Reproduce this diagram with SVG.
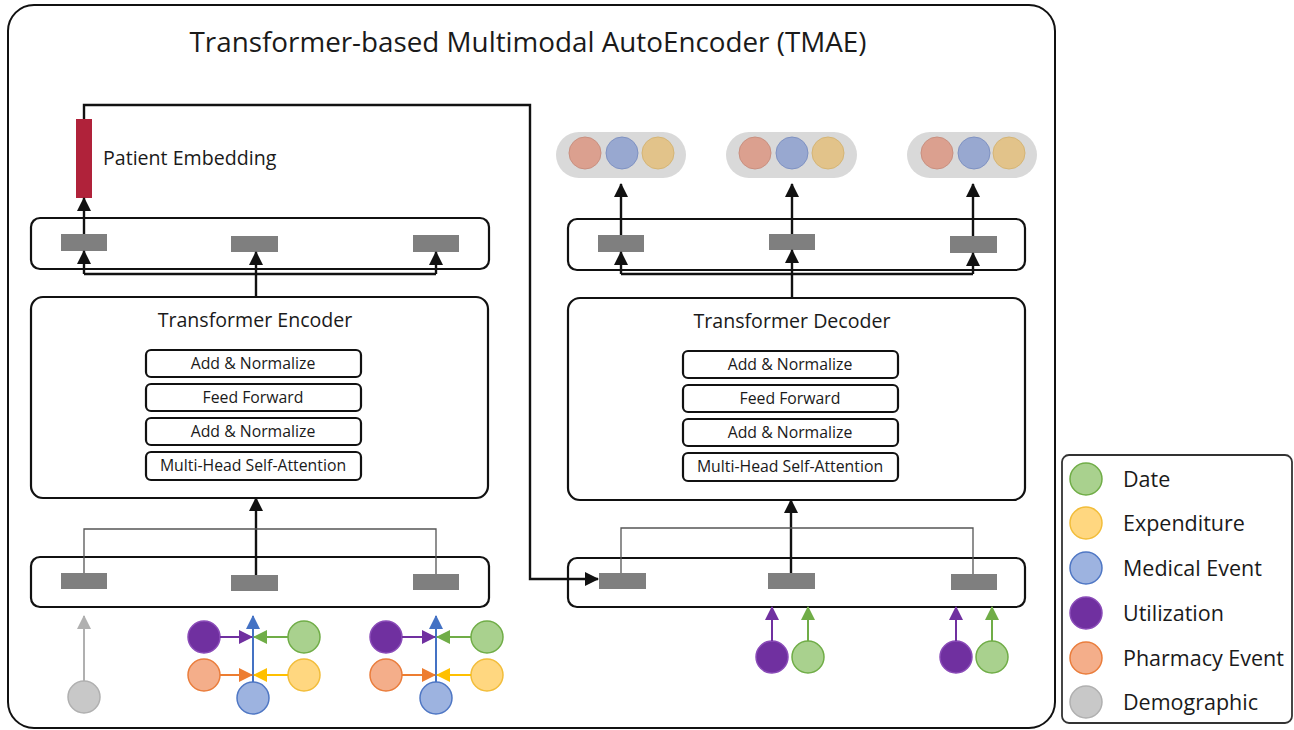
<svg xmlns="http://www.w3.org/2000/svg" width="1294" height="730" viewBox="0 0 1294 730">
<style>
text{font-family:"Open Sans","Noto Sans","Liberation Sans",sans-serif;fill:#1a1a1a}
.box{fill:#fff;stroke:#111;stroke-width:2.2}
.tok{fill:#7f7f7f}
.blk{fill:none;stroke:#111;stroke-width:2.4}
.thin{fill:none;stroke:#555;stroke-width:1.3}
.lay{font-size:15.8px;text-anchor:middle}
.leg{font-size:21.5px}
.pill{fill:#d9d9d9}
.g{fill:#a9d18e;stroke:#70ad47;stroke-width:1.5}
.y{fill:#ffd780;stroke:#f2bd3a;stroke-width:1.5}
.b{fill:#9db3e0;stroke:#4f77c4;stroke-width:1.5}
.p{fill:#7030a0;stroke:#8a4bb8;stroke-width:1.5}
.o{fill:#f4ae8a;stroke:#ea7d3c;stroke-width:1.5}
.d{fill:#c8c8c8;stroke:#b0b0b0;stroke-width:1.5}
.fo{fill:#dba08f;stroke:#c99080;stroke-width:1}
.fb{fill:#98a8d0;stroke:#7f92c2;stroke-width:1}
.fy{fill:#e2c38a;stroke:#d5b575;stroke-width:1}
</style>
<defs>
<marker id="ak" markerUnits="userSpaceOnUse" markerWidth="14" markerHeight="14" refX="13" refY="7" orient="auto"><path d="M0,0 L14,7 L0,14 z" fill="#111"/></marker>
<marker id="ap" markerUnits="userSpaceOnUse" markerWidth="14" markerHeight="14" refX="13" refY="7" orient="auto"><path d="M0,0 L14,7 L0,14 z" fill="#7030a0"/></marker>
<marker id="ag" markerUnits="userSpaceOnUse" markerWidth="14" markerHeight="14" refX="13" refY="7" orient="auto"><path d="M0,0 L14,7 L0,14 z" fill="#70ad47"/></marker>
<marker id="ao" markerUnits="userSpaceOnUse" markerWidth="14" markerHeight="14" refX="13" refY="7" orient="auto"><path d="M0,0 L14,7 L0,14 z" fill="#ed7d31"/></marker>
<marker id="ay" markerUnits="userSpaceOnUse" markerWidth="14" markerHeight="14" refX="13" refY="7" orient="auto"><path d="M0,0 L14,7 L0,14 z" fill="#ffc000"/></marker>
<marker id="ab" markerUnits="userSpaceOnUse" markerWidth="14" markerHeight="14" refX="13" refY="7" orient="auto"><path d="M0,0 L14,7 L0,14 z" fill="#4472c4"/></marker>
<marker id="ad" markerUnits="userSpaceOnUse" markerWidth="14" markerHeight="14" refX="13" refY="7" orient="auto"><path d="M0,0 L14,7 L0,14 z" fill="#b0b0b0"/></marker>
</defs>
<rect width="1294" height="730" fill="#fff"/>

<g id="tmae">
<rect x="8" y="5" width="1047" height="723" rx="26" fill="none" stroke="#111" stroke-width="2"/>
<text x="528" y="52" font-size="27.8" text-anchor="middle">Transformer-based Multimodal AutoEncoder (TMAE)</text>
</g>

<g id="patient-embedding">
<rect x="76" y="119" width="16" height="79" fill="#b0223a"/>
<text x="103" y="165" font-size="19.6">Patient Embedding</text>
</g>

<g id="encoder-output">
<rect class="box" x="31" y="218" width="458" height="51" rx="9"/>
<rect class="tok" x="61" y="234" width="46" height="17"/>
<rect class="tok" x="231" y="236" width="47" height="16"/>
<rect class="tok" x="413" y="235" width="46" height="17"/>
</g>

<g id="transformer-encoder">
<rect class="box" x="31" y="297" width="457" height="201" rx="12"/>
<text x="255" y="327" font-size="19.6" text-anchor="middle">Transformer Encoder</text>
<rect class="box" x="146" y="350" width="215" height="27" rx="5" stroke-width="1.8"/>
<text class="lay" x="253" y="369">Add &amp; Normalize</text>
<rect class="box" x="146" y="384" width="215" height="27" rx="5" stroke-width="1.8"/>
<text class="lay" x="253" y="403">Feed Forward</text>
<rect class="box" x="146" y="418" width="215" height="27" rx="5" stroke-width="1.8"/>
<text class="lay" x="253" y="437">Add &amp; Normalize</text>
<rect class="box" x="146" y="452" width="215" height="28" rx="5" stroke-width="1.8"/>
<text class="lay" x="253" y="471">Multi-Head Self-Attention</text>
</g>

<g id="encoder-input">
<rect class="box" x="31" y="557" width="458" height="50" rx="9"/>
<rect class="tok" x="61" y="573" width="46" height="16"/>
<rect class="tok" x="231" y="575" width="47" height="16"/>
<rect class="tok" x="413" y="574" width="46" height="16"/>
</g>

<g id="decoder-output-pills">
<rect class="pill" x="556" y="132" width="130" height="46" rx="23"/>
<circle class="fo" cx="585" cy="153" r="16"/><circle class="fb" cx="622" cy="153" r="16"/><circle class="fy" cx="658" cy="153" r="16"/>
<rect class="pill" x="726" y="132" width="131" height="46" rx="23"/>
<circle class="fo" cx="755" cy="153" r="16"/><circle class="fb" cx="792" cy="153" r="16"/><circle class="fy" cx="828" cy="153" r="16"/>
<rect class="pill" x="907" y="132" width="130" height="46" rx="23"/>
<circle class="fo" cx="937" cy="153" r="16"/><circle class="fb" cx="974" cy="153" r="16"/><circle class="fy" cx="1009" cy="153" r="16"/>
</g>

<g id="decoder-output">
<rect class="box" x="568" y="219" width="457" height="51" rx="9"/>
<rect class="tok" x="598" y="235" width="46" height="17"/>
<rect class="tok" x="769" y="234" width="46" height="16"/>
<rect class="tok" x="950" y="236" width="47" height="17"/>
</g>

<g id="transformer-decoder">
<rect class="box" x="568" y="298" width="457" height="202" rx="12"/>
<text x="792" y="328" font-size="19.6" text-anchor="middle">Transformer Decoder</text>
<rect class="box" x="683" y="351" width="215" height="27" rx="5" stroke-width="1.8"/>
<text class="lay" x="790" y="370">Add &amp; Normalize</text>
<rect class="box" x="683" y="385" width="215" height="27" rx="5" stroke-width="1.8"/>
<text class="lay" x="790" y="404">Feed Forward</text>
<rect class="box" x="683" y="419" width="215" height="27" rx="5" stroke-width="1.8"/>
<text class="lay" x="790" y="438">Add &amp; Normalize</text>
<rect class="box" x="683" y="453" width="215" height="28" rx="5" stroke-width="1.8"/>
<text class="lay" x="790" y="472">Multi-Head Self-Attention</text>
</g>

<g id="decoder-input">
<rect class="box" x="568" y="558" width="457" height="49" rx="9"/>
<rect class="tok" x="599" y="573" width="47" height="16"/>
<rect class="tok" x="768" y="573" width="47" height="16"/>
<rect class="tok" x="951" y="574" width="46" height="16"/>
</g>

<g id="encoder-inputs">
<circle class="d" cx="84" cy="697" r="16"/>
<circle class="p" cx="204" cy="637" r="16"/>
<circle class="g" cx="304" cy="637" r="16"/>
<circle class="o" cx="204" cy="675" r="16"/>
<circle class="y" cx="304" cy="675" r="16"/>
<circle class="b" cx="253" cy="698" r="16"/>
<circle class="p" cx="386" cy="637" r="16"/>
<circle class="g" cx="487" cy="637" r="16"/>
<circle class="o" cx="386" cy="675" r="16"/>
<circle class="y" cx="487" cy="675" r="16"/>
<circle class="b" cx="436" cy="698" r="16"/>
</g>

<g id="decoder-inputs">
<circle class="p" cx="772" cy="657" r="16"/>
<circle class="g" cx="808" cy="657" r="16"/>
<circle class="p" cx="956" cy="657" r="16"/>
<circle class="g" cx="992" cy="657" r="16"/>
</g>

<g id="legend">
<rect x="1062" y="455" width="230" height="268" rx="7" fill="#fff" stroke="#333" stroke-width="1.8"/>
<circle class="g" cx="1086" cy="479" r="16"/><text class="leg" x="1123" y="487">Date</text>
<circle class="y" cx="1086" cy="523" r="16"/><text class="leg" x="1123" y="531">Expenditure</text>
<circle class="b" cx="1086" cy="568" r="16"/><text class="leg" x="1123" y="576">Medical Event</text>
<circle class="p" cx="1086" cy="613" r="16"/><text class="leg" x="1123" y="621">Utilization</text>
<circle class="o" cx="1086" cy="658" r="16"/><text class="leg" x="1123" y="666">Pharmacy Event</text>
<circle class="d" cx="1086" cy="702" r="16"/><text class="leg" x="1123" y="710">Demographic</text>
</g>

<g id="connectors">
<path class="blk" d="M84,119 V105 H530 V579 H598" marker-end="url(#ak)"/>
<path class="blk" d="M84,234 V198" marker-end="url(#ak)"/>
<path class="blk" d="M256,297 V252" marker-end="url(#ak)"/>
<path class="blk" d="M84,274 H436"/>
<path class="blk" d="M84,274 V251" marker-end="url(#ak)"/>
<path class="blk" d="M436,274 V252" marker-end="url(#ak)"/>
<path class="blk" d="M256,575 V498" marker-end="url(#ak)"/>
<path class="thin" d="M84,573 V529 H436 V574"/>

<path class="blk" d="M621,235 V184" marker-end="url(#ak)"/>
<path class="blk" d="M792,234 V184" marker-end="url(#ak)"/>
<path class="blk" d="M973,236 V184" marker-end="url(#ak)"/>
<path class="blk" d="M792,298 V250" marker-end="url(#ak)"/>
<path class="blk" d="M621,274 H973"/>
<path class="blk" d="M621,274 V252" marker-end="url(#ak)"/>
<path class="blk" d="M973,274 V253" marker-end="url(#ak)"/>
<path class="blk" d="M791,573 V500" marker-end="url(#ak)"/>
<path class="thin" d="M621,573 V528 H973 V574"/>

<path d="M84,681 V616" stroke="#b0b0b0" stroke-width="2" fill="none" marker-end="url(#ad)"/>
<path d="M253,682 V616" stroke="#4472c4" stroke-width="2" fill="none" marker-end="url(#ab)"/>
<path d="M220,637 H252" stroke="#7030a0" stroke-width="2" fill="none" marker-end="url(#ap)"/>
<path d="M288,637 H254" stroke="#70ad47" stroke-width="2" fill="none" marker-end="url(#ag)"/>
<path d="M220,675 H252" stroke="#ed7d31" stroke-width="2" fill="none" marker-end="url(#ao)"/>
<path d="M288,675 H254" stroke="#ffc000" stroke-width="2" fill="none" marker-end="url(#ay)"/>
<path d="M436,682 V616" stroke="#4472c4" stroke-width="2" fill="none" marker-end="url(#ab)"/>
<path d="M402,637 H435" stroke="#7030a0" stroke-width="2" fill="none" marker-end="url(#ap)"/>
<path d="M471,637 H437" stroke="#70ad47" stroke-width="2" fill="none" marker-end="url(#ag)"/>
<path d="M402,675 H435" stroke="#ed7d31" stroke-width="2" fill="none" marker-end="url(#ao)"/>
<path d="M471,675 H437" stroke="#ffc000" stroke-width="2" fill="none" marker-end="url(#ay)"/>

<path d="M772,641 V607" stroke="#7030a0" stroke-width="2" fill="none" marker-end="url(#ap)"/>
<path d="M808,641 V607" stroke="#70ad47" stroke-width="2" fill="none" marker-end="url(#ag)"/>
<path d="M956,641 V607" stroke="#7030a0" stroke-width="2" fill="none" marker-end="url(#ap)"/>
<path d="M992,641 V607" stroke="#70ad47" stroke-width="2" fill="none" marker-end="url(#ag)"/>
</g>
</svg>
